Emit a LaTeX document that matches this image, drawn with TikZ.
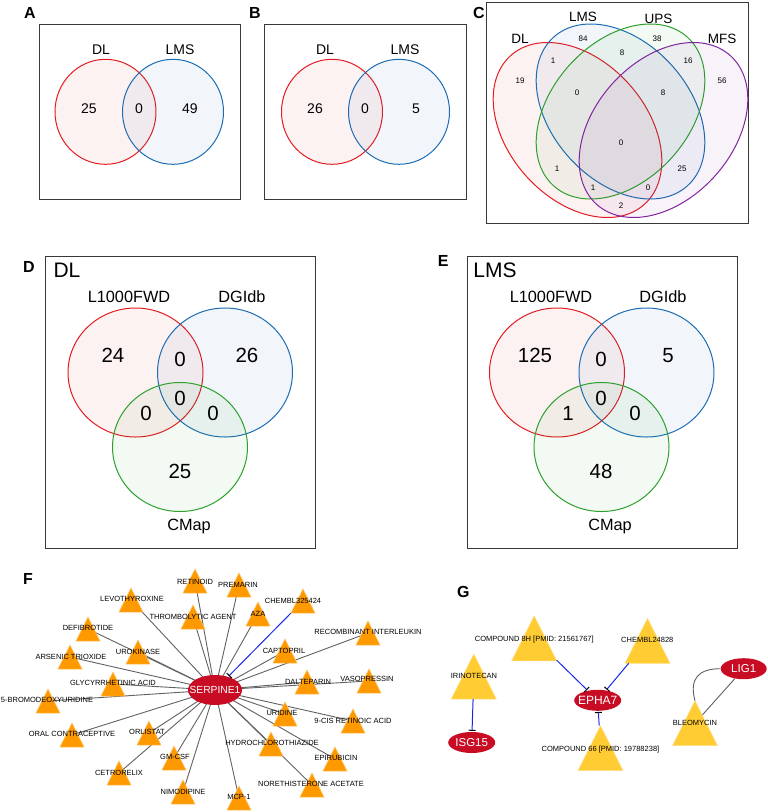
\documentclass[tikz,border=0pt]{standalone}
\usepackage{fontspec}
\setmainfont{Liberation Sans}
\usetikzlibrary{shapes.geometric,arrows.meta,backgrounds}
\definecolor{vred}{RGB}{226,28,32}
\definecolor{vblue}{RGB}{28,108,180}
\definecolor{vgreen}{RGB}{44,160,44}
\definecolor{vpurple}{RGB}{128,36,160}
\definecolor{cTriF}{RGB}{255,153,0}
\definecolor{cTriG}{RGB}{255,204,51}
\definecolor{cGene}{RGB}{200,12,36}
\definecolor{cInh}{RGB}{25,40,230}
\newcommand{\fsz}[1]{\fontsize{#1}{#1}\selectfont}
\begin{document}
\begin{tikzpicture}[x=1pt,y=-1pt,
  panel/.style={font=\fsz{16}\bfseries, inner sep=0pt},
  frame/.style={draw=black!78, line width=0.9pt},
  vtxt/.style={font=\fsz{14}, inner sep=0pt, text depth=0pt},
  ctxt/.style={font=\fsz{13.5}, inner sep=0pt, text depth=0pt},
  cnum/.style={font=\fsz{8}, inner sep=0pt, text depth=0pt},
  dtitle/.style={font=\fsz{21}, inner sep=0pt, text depth=0pt},
  dlab/.style={font=\fsz{16.3}, inner sep=0pt, text depth=0pt},
  dnum/.style={font=\fsz{20.5}, inner sep=0pt, text depth=0pt},
  vc/.style={line width=1pt, draw=#1, fill=#1, fill opacity=0.06},
  trisq/.style={rectangle, draw=none, minimum width=#1, minimum height=#1, inner sep=0pt, outer sep=0pt},
  trifillF/.style={fill=cTriF, draw=cTriF!60!white, line width=0.5pt},
  trifillG/.style={fill=cTriG, draw=cTriG!60!white, line width=0.5pt},
  drug/.style={font=\fsz{7.5}, inner sep=0pt, text depth=0pt},
  gene/.style={ellipse, fill=cGene, text=white, inner sep=0pt},
  fedge/.style={draw=black!62, line width=0.9pt},
  inh/.style={draw=cInh, line width=1pt, -{Bar[width=7pt, line width=1pt, color=black]}, shorten >=1pt}
]
\useasboundingbox (0,0) rectangle (768,812);

% ---------------- Panel A ----------------
\node[panel] (pA) at (30,12.5) {A};
\draw[frame] (39,24) rectangle (240,199);
\draw[vc=vred] (105.5,111.8) ellipse [x radius=50.5, y radius=52.5];
\draw[vc=vblue] (173,111.8) ellipse [x radius=50.5, y radius=52.5];
\node[vtxt] (aDL) at (101,50) {DL};
\node[vtxt] (aLMS) at (180,50) {LMS};
\node[vtxt] (a1) at (89,109) {25};
\node[vtxt] (a2) at (139,109) {0};
\node[vtxt] (a3) at (190,109) {49};

% ---------------- Panel B ----------------
\node[panel] (pB) at (255,12.5) {B};
\draw[frame] (264,24) rectangle (466,199);
\draw[vc=vred] (332,111.8) ellipse [x radius=50.5, y radius=52.5];
\draw[vc=vblue] (399,111.8) ellipse [x radius=50.5, y radius=52.5];
\node[vtxt] (bDL) at (325,50) {DL};
\node[vtxt] (bLMS) at (405,50) {LMS};
\node[vtxt] (b1) at (315,109) {26};
\node[vtxt] (b2) at (365,109) {0};
\node[vtxt] (b3) at (416,109) {5};

% ---------------- Panel C ----------------
\node[panel] (pC) at (479,12.5) {C};
\draw[frame] (486,2) rectangle (748,223);
\draw[vc=vred] [rotate around={-48:(577.5,130)}] (577.5,130) ellipse [x radius=100, y radius=69];
\draw[vc=vblue] [rotate around={-48:(620.5,111.5)}] (620.5,111.5) ellipse [x radius=100, y radius=69];
\draw[vc=vgreen] [rotate around={48:(620.5,111.5)}] (620.5,111.5) ellipse [x radius=100, y radius=69];
\draw[vc=vpurple] [rotate around={48:(663.5,130)}] (663.5,130) ellipse [x radius=100, y radius=69];
\node[ctxt] (cDL) at (520,39) {DL};
\node[ctxt] (cLMS) at (583,17) {LMS};
\node[ctxt] (cUPS) at (658.5,19) {UPS};
\node[ctxt] (cMFS) at (722,39) {MFS};
\node[cnum] (c1) at (583,39) {84};
\node[cnum] (c2) at (657,39) {38};
\node[cnum] (c3) at (553,61) {1};
\node[cnum] (c4) at (622,53) {8};
\node[cnum] (c5) at (688,61) {16};
\node[cnum] (c6) at (520,81) {19};
\node[cnum] (c7) at (722,81) {56};
\node[cnum] (c8) at (577,93) {0};
\node[cnum] (c9) at (663,93) {8};
\node[cnum] (c10) at (621,143) {0};
\node[cnum] (c11) at (557,169) {1};
\node[cnum] (c12) at (682,169) {25};
\node[cnum] (c13) at (593,188) {1};
\node[cnum] (c14) at (648,188) {0};
\node[cnum] (c15) at (621,206) {2};

% ---------------- Panel D ----------------
\node[panel] (pD) at (29,266.5) {D};
\draw[frame] (45,256) rectangle (315,548);
\node[dtitle] (dT) at (67,270) {DL};
\draw[vc=vred] (135.5,372.5) ellipse [x radius=67.5, y radius=64.5];
\draw[vc=vblue] (225,372.5) ellipse [x radius=67.5, y radius=64.5];
\draw[vc=vgreen] (180,447) ellipse [x radius=67.5, y radius=64.5];
\node[dlab] (dL1) at (129,297) {L1000FWD};
\node[dlab] (dL2) at (242,297) {DGIdb};
\node[dlab] (dL3) at (189,525) {CMap};
\node[dnum] (d1) at (113,355) {24};
\node[dnum] (d2) at (180,359) {0};
\node[dnum] (d3) at (247,355) {26};
\node[dnum] (d4) at (180,398) {0};
\node[dnum] (d5) at (146,413) {0};
\node[dnum] (d6) at (213,413) {0};
\node[dnum] (d7) at (180,471) {25};

% ---------------- Panel E ----------------
\node[panel] (pE) at (443.3,261.3) {E};
\draw[frame] (467,256) rectangle (737,548);
\node[dtitle] (eT) at (495,270) {LMS};
\draw[vc=vred] (557,372.5) ellipse [x radius=67.5, y radius=64.5];
\draw[vc=vblue] (646.5,372.5) ellipse [x radius=67.5, y radius=64.5];
\draw[vc=vgreen] (601.5,447) ellipse [x radius=67.5, y radius=64.5];
\node[dlab] (eL1) at (551,297) {L1000FWD};
\node[dlab] (eL2) at (663,297) {DGIdb};
\node[dlab] (eL3) at (610,525) {CMap};
\node[dnum] (e1) at (535,355) {125};
\node[dnum] (e2) at (601,359) {0};
\node[dnum] (e3) at (668,355) {5};
\node[dnum] (e4) at (601,398) {0};
\node[dnum] (e5) at (568,413) {1};
\node[dnum] (e6) at (635,413) {0};
\node[dnum] (e7) at (601,471) {48};

% ---------------- Panel F ----------------
\node[panel] (pF) at (28,579) {F};
\foreach \n/\tx/\ty in {
  t1/195/581, t2/239/585, t3/131/600, t4/303/601, t5/193/617, t6/258/614,
  t7/88/629, t8/368/633, t9/138/652, t10/285/651, t11/70/657, t12/113/684,
  t13/307/682, t14/369/681, t15/48/701, t16/285/714, t17/353/721, t18/72/735,
  t19/149/733, t20/271/744, t21/174/758, t22/335/759, t23/119/773, t24/312/785,
  t25/183/792, t26/239/798}
  {\node[trisq=24pt] (\n) at (\tx,\ty) {};
   \path[trifillF] (\n.south west) -- (\n.south east) -- (\n.north) -- cycle;}
\node[gene, minimum width=54pt, minimum height=30pt, font=\fsz{10.3}] (serp) at (215,690) {\makebox[0pt][c]{SERPINE1}};
\begin{scope}[on background layer]
  \foreach \n in {t1,t2,t3,t5,t6,t7,t8,t9,t10,t11,t12,t13,t14,t15,t16,t17,t18,t19,t20,t21,t22,t23,t24,t25,t26}
    \draw[fedge] (serp.center) -- (\n.center);
\end{scope}
\draw[inh] (t4.south west) -- (serp);
\foreach \n/\lx/\ly/\txt in {
  l1/195/582/RETINOID, l2/238/585/PREMARIN, l3/132/599/LEVOTHYROXINE,
  l4/293/601/CHEMBL325424, l5/193/617/THROMBOLYTIC AGENT, l6/258/614/AZA,
  l7/88/628/DEFIBROTIDE, l8/368/632/RECOMBINANT INTERLEUKIN, l9/138/652/UROKINASE,
  l10/284/651/CAPTOPRIL, l11/71/657/ARSENIC TRIOXIDE, l12/113/683/GLYCYRRHETINIC ACID,
  l13/308/682/DALTEPARIN, l14/367/679/VASOPRESSIN, l15/47/700/5-BROMODEOXYURIDINE,
  l16/282/713/URIDINE, l17/353/721/9-CIS RETINOIC ACID, l18/72/734/ORAL CONTRACEPTIVE,
  l19/147/732/ORLISTAT, l20/272/743/HYDROCHLOROTHIAZIDE, l21/175/757/GM-CSF,
  l22/336/758/EPIRUBICIN, l23/119/773/CETRORELIX, l24/311/784/NORETHISTERONE ACETATE,
  l25/183/792/NIMODIPINE, l26/239/797/MCP-1}
  {\node[drug] (\n) at (\lx,\ly) {\txt};}

% ---------------- Panel G ----------------
\node[panel] (pG) at (463.3,592.3) {G};
\foreach \n/\tx/\ty in {c8h/534.2/638.3, chb/647.5/640.8, iri/473.8/676.5, c66/600.5/748.2, bleo/695/723.2}
  {\node[trisq=45pt] (\n) at (\tx,\ty) {};
   \path[trifillG] (\n.south west) -- (\n.south east) -- (\n.north) -- cycle;}
\node[gene, minimum width=47pt, minimum height=21pt, font=\fsz{12}] (epha) at (597.7,700.3) {\makebox[0pt][c]{EPHA7}};
\node[gene, minimum width=47pt, minimum height=21pt, font=\fsz{11.5}] (isg) at (471.7,742.5) {\makebox[0pt][c]{ISG15}};
\node[gene, minimum width=46pt, minimum height=21pt, font=\fsz{11.5}] (lig) at (743.7,668.7) {\makebox[0pt][c]{LIG1}};
\draw[inh] (c8h) -- (epha);
\draw[inh] (chb) -- (epha);
\draw[inh] (c66) -- (epha);
\draw[inh] (iri) -- (isg);
\begin{scope}[on background layer]
  \draw[fedge] (bleo.center) -- (lig);
\end{scope}
\draw[fedge] (bleo.north) .. controls +(-6,-22) and +(-22,0) .. (lig.west);
\node[drug] (gl1) at (534.3,638.7) {COMPOUND 8H [PMID: 21561767]};
\node[drug] (gl2) at (647.3,640) {CHEMBL24828};
\node[drug] (gl3) at (474,676) {IRINOTECAN};
\node[drug] (gl4) at (600.5,748.3) {COMPOUND 66 [PMID: 19788238]};
\node[drug] (gl5) at (695,723.3) {BLEOMYCIN};
\end{tikzpicture}
\end{document}
